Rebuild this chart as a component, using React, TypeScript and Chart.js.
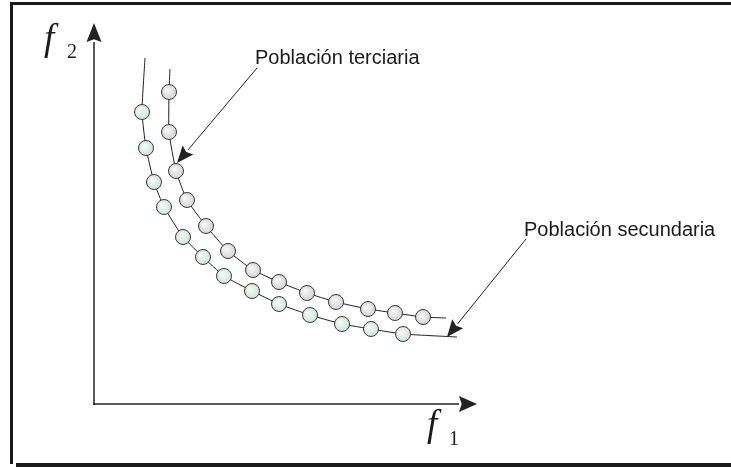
import React, { useEffect, useRef } from "react";
import { Chart, registerables } from "chart.js";

Chart.register(...registerables);

// Objective values (f1, f2), in arbitrary units 0..100.
// First and last entries are the curve ends (drawn without a marker).
const tertiaryF1 = [19, 18.75, 18.75, 20.5, 23.25, 28, 33.5, 39.75, 46.25, 53.25, 60.5, 68.5, 75.25, 82.25, 88];
const tertiaryF2 = [83.75, 78, 68, 58.25, 51, 44.5, 38.25, 33.5, 30.5, 27.75, 25.5, 23.75, 22.75, 21.75, 21.5];
const secondaryF1 = [12.75, 12, 13, 15, 17.5, 22.25, 27.25, 32.5, 39.5, 46.25, 54, 62, 69.25, 77.25, 90.75];
const secondaryF2 = [86.5, 73, 64, 55.5, 49.25, 41.75, 36.75, 32, 28.25, 25, 22.25, 20, 18.75, 17.5, 16.75];

const labelTertiary = "Población terciaria";
const labelSecondary = "Población secundaria";

const toPoints = (xs: number[], ys: number[]) => xs.map((x, i) => ({ x, y: ys[i] }));

function drawArrow(ctx: CanvasRenderingContext2D, x1: number, y1: number, x2: number, y2: number, len: number, half: number, width: number, color: string) {
  const ang = Math.atan2(y2 - y1, x2 - x1);
  const bx = x2 - len * Math.cos(ang);
  const by = y2 - len * Math.sin(ang);
  ctx.save();
  ctx.strokeStyle = color;
  ctx.fillStyle = color;
  ctx.lineWidth = width;
  ctx.beginPath();
  ctx.moveTo(x1, y1);
  ctx.lineTo(bx, by);
  ctx.stroke();
  ctx.beginPath();
  ctx.moveTo(x2, y2);
  ctx.lineTo(bx + half * Math.sin(ang), by - half * Math.cos(ang));
  ctx.lineTo(bx + len * 0.15 * Math.cos(ang), by + len * 0.15 * Math.sin(ang));
  ctx.lineTo(bx - half * Math.sin(ang), by + half * Math.cos(ang));
  ctx.closePath();
  ctx.fill();
  ctx.restore();
}

const decorPlugin = {
  id: "decor",
  beforeDraw(chart: any) {
    const ctx = chart.ctx as CanvasRenderingContext2D;
    const w = chart.width;
    const h = chart.height;
    ctx.save();
    ctx.fillStyle = "#ffffff";
    ctx.fillRect(0, 0, w, h);
    ctx.fillStyle = "#1a1a1a";
    ctx.fillRect(10, 2, 3, 462);
    ctx.fillRect(10, 2, w - 10, 3);
    ctx.fillRect(16, 463, w - 16, 4);
    ctx.restore();

    const xs = chart.scales.x;
    const ys = chart.scales.y;
    const px = (v: number) => xs.getPixelForValue(v);
    const py = (v: number) => ys.getPixelForValue(v);
    // axes with arrows
    drawArrow(ctx, px(0), py(0) + 1, px(0), py(95.25), 19, 7.5, 1.5, "#222");
    drawArrow(ctx, px(0) - 1, py(0), px(95.75), py(0), 18, 8, 1.5, "#222");
  },
  afterDraw(chart: any) {
    const ctx = chart.ctx as CanvasRenderingContext2D;
    const xs = chart.scales.x;
    const ys = chart.scales.y;
    const px = (v: number) => xs.getPixelForValue(v);
    const py = (v: number) => ys.getPixelForValue(v);
    ctx.save();
    ctx.fillStyle = "#1a1a1a";
    ctx.textAlign = "left";
    ctx.textBaseline = "alphabetic";
    // axis titles
    ctx.font = "italic 37px 'Liberation Serif'";
    ctx.fillText("f", px(-12.5), py(88.5));
    ctx.font = "20px 'Liberation Serif'";
    ctx.fillText("2", px(-6.75), py(86.5));
    ctx.font = "italic 37px 'Liberation Serif'";
    ctx.fillText("f", px(83.25), py(-8));
    ctx.font = "20px 'Liberation Serif'";
    ctx.fillText("1", px(88.75), py(-10.25));
    // annotations
    ctx.font = "20px 'Liberation Sans'";
    ctx.fillText(labelTertiary, px(40.25), py(84.9));
    ctx.fillText(labelSecondary, px(107.5), py(42));
    ctx.restore();
    drawArrow(ctx, px(40.75), py(84), px(20.75), py(60.25), 17, 7, 1, "#222");
    drawArrow(ctx, px(108), py(41.25), px(88.25), py(16.75), 17, 7, 1, "#222");
  },
};

function makeFill(inner: string, outer: string) {
  return (c: any) => {
    const chart = c.chart;
    const xs = chart.scales?.x;
    const ys = chart.scales?.y;
    if (!xs || !ys || !c.parsed) return outer;
    const x = xs.getPixelForValue(c.parsed.x);
    const y = ys.getPixelForValue(c.parsed.y);
    if (!Number.isFinite(x) || !Number.isFinite(y)) return outer;
    const g = chart.ctx.createRadialGradient(x - 2, y - 2, 1, x, y, 8);
    g.addColorStop(0, inner);
    g.addColorStop(1, outer);
    return g;
  };
}

export default function App() {
  const ref = useRef<HTMLCanvasElement | null>(null);
  useEffect(() => {
    if (!ref.current) return;
    const n = tertiaryF1.length;
    const radius = (c: any) => (c.dataIndex === 0 || c.dataIndex === n - 1 ? 0 : 7.5);
    const chart = new Chart(ref.current, {
      type: "scatter",
      data: {
        datasets: [
          {
            label: labelSecondary,
            data: toPoints(secondaryF1, secondaryF2),
            showLine: true,
            borderColor: "#222",
            borderWidth: 1,
            tension: 0.15,
            pointRadius: radius,
            pointHoverRadius: radius,
            pointBorderColor: "#3a3a3a",
            pointBorderWidth: 1,
            pointBackgroundColor: makeFill("#f2faf4", "#cfe3d5"),
            clip: false,
          } as any,
          {
            label: labelTertiary,
            data: toPoints(tertiaryF1, tertiaryF2),
            showLine: true,
            borderColor: "#222",
            borderWidth: 1,
            tension: 0.15,
            pointRadius: radius,
            pointHoverRadius: radius,
            pointBorderColor: "#3a3a3a",
            pointBorderWidth: 1,
            pointBackgroundColor: makeFill("#f6f6f7", "#d2d2d5"),
            clip: false,
          } as any,
        ],
      },
      options: {
        animation: false,
        responsive: false,
        devicePixelRatio: 1,
        layout: { padding: { left: 94, top: 4, right: 237, bottom: 63 } },
        plugins: { legend: { display: false }, tooltip: { enabled: false } },
        events: [],
        scales: {
          x: { type: "linear", min: 0, max: 100, display: false },
          y: { type: "linear", min: 0, max: 100, display: false },
        },
      },
      plugins: [decorPlugin],
    });
    return () => chart.destroy();
  }, []);
  return (
    <div style={{ position: "absolute", left: 0, top: 0, width: 731, height: 467 }}>
      <canvas ref={ref} width={731} height={467} style={{ width: 731, height: 467, display: "block" }} />
    </div>
  );
}
